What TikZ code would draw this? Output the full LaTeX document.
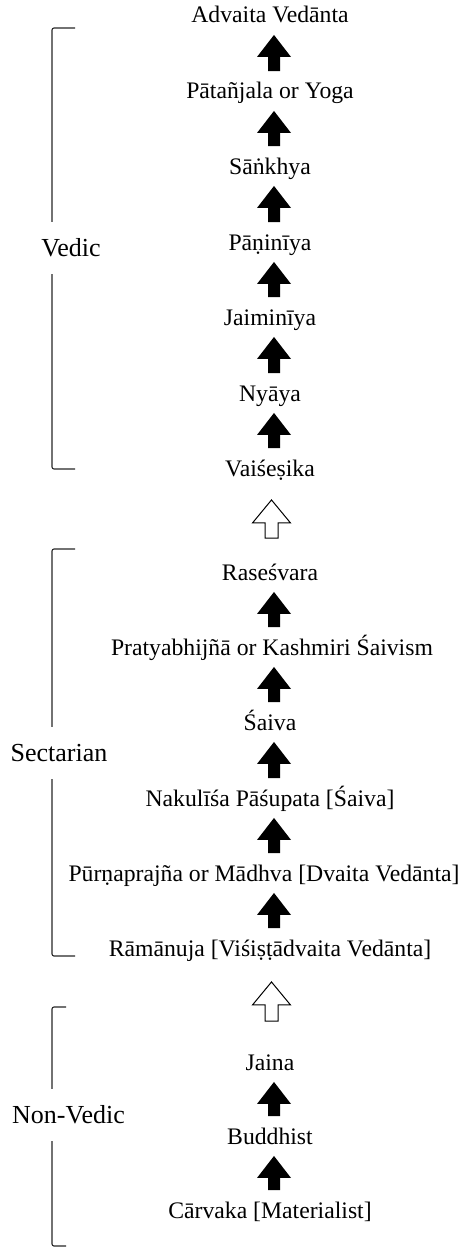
\documentclass[tikz,border=0pt]{standalone}
\usepackage{fontspec}
\setmainfont{Liberation Serif}
\usetikzlibrary{calc}

\tikzset{
  ecole/.style={font=\fontsize{23.7}{28}\selectfont, text height=17pt, text depth=1pt, inner xsep=0pt, inner ysep=10.75pt},
  groupe/.style={font=\fontsize{26}{30}\selectfont, text height=18pt, text depth=2pt, inner xsep=0pt, inner ysep=16pt},
  crochet/.style={draw=black!85, line width=1.1pt, rounded corners=2pt},
  plein/.style={fill=black, to path={let \p1=(\tikztostart), \p2=(\tikztotarget) in
    (\x1-6pt,\y1) -- (\x1+6pt,\y1) -- (\x1+6pt,\y2-22pt) -- (\x1+17pt,\y2-22pt) -- (\x1,\y2)
    -- (\x1-17pt,\y2-22pt) -- (\x1-6pt,\y2-22pt) -- cycle}},
  creux/.style={draw=black, fill=white, line width=1pt, to path={let \p1=(\tikztostart), \p2=(\tikztotarget) in
    (\x1-6.5pt,\y1) -- (\x1+6.5pt,\y1) -- (\x1+6.5pt,\y2-23pt) -- (\x1+19pt,\y2-23pt) -- (\x1,\y2)
    -- (\x1-19pt,\y2-23pt) -- (\x1-6.5pt,\y2-23pt) -- cycle}}
}

\begin{document}
\begin{tikzpicture}[x=1pt, y=-1pt]
 \useasboundingbox (0,0) rectangle (471,1247);

	% Vedic
 \node[ecole] (adv) at (270,15) {Advaita Vedānta};
 \node[ecole] (pata) at (270,91) {Pātañjala or Yoga};
 \node[ecole] (sank) at (270,166) {Sāṅkhya};
 \node[ecole] (pani) at (270,242) {Pāṇinīya};
 \node[ecole] (jaim) at (270,317) {Jaiminīya};
 \node[ecole] (nyaya) at (270,393) {Nyāya};
 \node[ecole] (vais) at (270,468) {Vaiśeṣika};

	% Sectarian
 \node[ecole] (rases) at (270,572) {Raseśvara};
 \node[ecole] (praty) at (272,647) {Pratyabhijñā or Kashmiri Śaivism};
 \node[ecole] (saiva) at (270,722) {Śaiva};
 \node[ecole] (nakul) at (270,798) {Nakulīśa Pāśupata [Śaiva]};
 \node[ecole] (purna) at (264,873) {Pūrṇaprajña or Mādhva [Dvaita Vedānta]};
 \node[ecole] (rama) at (270,948) {Rāmānuja [Viśiṣṭādvaita Vedānta]};

	% Non-Vedic
 \node[ecole] (jaina) at (270,1062) {Jaina};
 \node[ecole] (buddh) at (270,1136) {Buddhist};
 \node[ecole] (carv) at (270,1210) {Cārvaka [Materialist]};

	% Groupes
 \node[groupe] (vedic) at (71,248) {Vedic};
 \node[groupe] (sect) at (59,753) {Sectarian};
 \node[groupe] (nonv) at (68.5,1115) {Non-Vedic};

 \coordinate (vh) at (52,28);
 \coordinate (vb) at (52,469);
 \draw[crochet] ([xshift=23pt]vh) -- (vh) -- (vh |- vedic.north);
 \draw[crochet] (vb |- vedic.south) -- (vb) -- ([xshift=23pt]vb);

 \coordinate (sh) at (52,549);
 \coordinate (sb) at (52,956);
 \draw[crochet] ([xshift=23pt]sh) -- (sh) -- (sh |- sect.north);
 \draw[crochet] (sb |- sect.south) -- (sb) -- ([xshift=23pt]sb);

 \coordinate (nh) at (52,1007);
 \coordinate (nb) at (52,1246);
 \draw[crochet] ([xshift=14pt]nh) -- (nh) -- (nh |- nonv.north);
 \draw[crochet] (nb |- nonv.south) -- (nb) -- ([xshift=14pt]nb);

	% Fleches pleines
 \path[plein] ([xshift=4pt]pata.north) to ([xshift=4pt]adv.south);
 \path[plein] ([xshift=4pt]sank.north) to ([xshift=4pt]pata.south);
 \path[plein] ([xshift=4pt]pani.north) to ([xshift=4pt]sank.south);
 \path[plein] ([xshift=4pt]jaim.north) to ([xshift=4pt]pani.south);
 \path[plein] ([xshift=4pt]nyaya.north) to ([xshift=4pt]jaim.south);
 \path[plein] ([xshift=4pt]vais.north) to ([xshift=4pt]nyaya.south);

 \path[plein] ([xshift=2pt]praty.north) to ([xshift=4pt]rases.south);
 \path[plein] ([xshift=4pt]saiva.north) to ([xshift=2pt]praty.south);
 \path[plein] ([xshift=4pt]nakul.north) to ([xshift=4pt]saiva.south);
 \path[plein] ([xshift=10pt]purna.north) to ([xshift=10pt]nakul.south);
 \path[plein] ([xshift=4pt]rama.north) to ([xshift=10pt]purna.south);

 \path[plein] ([xshift=4pt]buddh.north) to ([xshift=4pt]jaina.south);
 \path[plein] ([xshift=4pt]carv.north) to ([xshift=4pt]buddh.south);

	% Fleches creuses
 \path[creux] ([xshift=1.5pt,yshift=14pt]rases.north) to ([xshift=1.5pt,yshift=-12pt]vais.south);
 \path[creux] ([xshift=1.5pt,yshift=21pt]jaina.north) to ([xshift=1.5pt,yshift=-14pt]rama.south);

\end{tikzpicture}
\end{document}
